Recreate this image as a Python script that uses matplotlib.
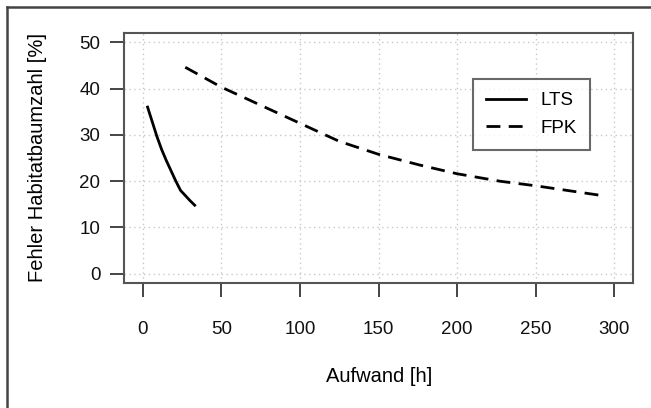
import numpy as np
import matplotlib.pyplot as plt
from matplotlib.lines import Line2D

plt.rcParams['font.family'] = ['Liberation Sans', 'DejaVu Sans']

# daten
lts_x = [3, 6, 9, 12, 15, 18, 21, 24, 27, 30, 33]
lts_y = [36.0, 32.8, 29.6, 26.8, 24.4, 22.2, 20.0, 18.0, 16.9, 15.8, 14.8]

fpk_x = [27, 50, 75, 100, 125, 150, 176, 200, 227, 250, 270, 290]
fpk_y = [44.6, 40.3, 36.4, 32.5, 28.6, 25.8, 23.5, 21.6, 20.0, 19.0, 18.0, 17.0]

x_ticks = [0, 50, 100, 150, 200, 250, 300]
y_ticks = [0, 10, 20, 30, 40, 50]

fig = plt.figure(figsize=(6.51, 4.08), dpi=100)
ax = fig.add_axes([124/651, 1-283/408, 509/651, 250/408])

# rahmen links und oben
fig.add_artist(Line2D([7/651, 7/651], [0, 1-7/408], color='#444444', lw=1.8))
fig.add_artist(Line2D([7/651, 1], [1-7/408, 1-7/408], color='#444444', lw=1.8))

ax.plot(lts_x, lts_y, color='black', lw=2.0, label='LTS', zorder=3)
ax.plot(fpk_x, fpk_y, color='black', lw=2.0, dashes=(5, 3), label='FPK', zorder=3)

ax.set_xlim(-12, 312)
ax.set_ylim(-2, 52)
ax.set_xticks(x_ticks)
ax.set_yticks(y_ticks)
ax.grid(True, color='#c8c8c8', linestyle=(0, (1, 2.5)), lw=1.0)
for s in ax.spines.values():
    s.set_color('#555555')
    s.set_linewidth(1.5)
ax.tick_params(axis='both', length=10, width=1.4, color='#444444', labelsize=13.5,
               labelcolor='#111111')
ax.tick_params(axis='x', pad=17)
ax.tick_params(axis='y', pad=7)

fig.text(379/651, 1-377/408, 'Aufwand [h]', ha='center', va='center', fontsize=14.5)
fig.text(38/651, 1-158/408, 'Fehler Habitatbaumzahl [%]', ha='center', va='center',
         rotation=90, fontsize=14.5)

leg = ax.legend(loc='upper left', bbox_to_anchor=(0.686, 0.816), fontsize=13.5,
                frameon=True, fancybox=False, handlelength=2.1, handletextpad=0.8,
                borderpad=0.7, labelspacing=0.55, borderaxespad=0)
leg.get_frame().set_edgecolor('#444444')
leg.get_frame().set_linewidth(1.5)

plt.savefig('out.png', dpi=100)
